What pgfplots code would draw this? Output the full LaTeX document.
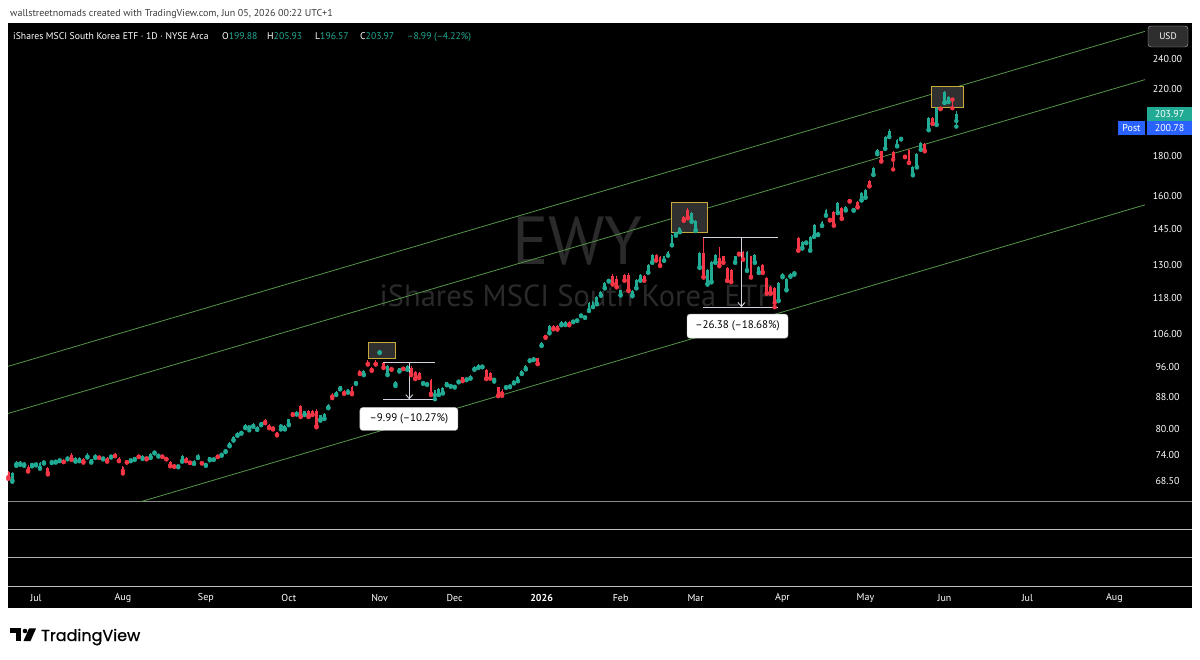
\documentclass[border=0pt]{standalone}
\usepackage{pgfplots}
\pgfplotsset{compat=1.18}
\usepackage{pgfplotstable}
\usepackage{fontspec}
\setmainfont{PT Sans}
\newfontfamily\logofont{Poppins}[FakeBold=0.8]
\usetikzlibrary{arrows.meta}
\definecolor{up}{RGB}{34,171,148}
\definecolor{dn}{RGB}{242,54,69}
\definecolor{chan}{RGB}{86,150,72}
\definecolor{boxy}{RGB}{200,170,60}
\definecolor{boxf}{RGB}{48,48,48}
\definecolor{wm}{RGB}{42,42,42}
\definecolor{meas}{RGB}{209,212,220}
\definecolor{postblue}{RGB}{41,98,255}
\definecolor{hdr}{RGB}{60,60,60}

\pgfplotstableread{
i o h l c
-7 70.2 70.6 68.9 69.2
-6 68.6 70.4 68.3 70.1
-5 71.9 72.7 71.6 72.5
-4 72.1 72.6 71.8 72.3
-3 71.9 72.4 71.6 72.2
-2 71.3 71.7 70.4 70.6
-1 71.8 72.2 71.5 72.0
0 71.9 72.3 71.7 72.1
1 71.2 72.5 71.0 72.3
2 72.3 72.9 72.1 72.7
3 71.1 71.4 69.8 70.1
4 72.4 72.7 72.2 72.5
5 72.5 72.8 72.3 72.7
6 72.8 73.1 72.6 72.9
7 72.8 73.0 72.4 72.5
8 73.2 73.6 73.0 73.4
9 74.0 74.3 72.9 73.1
10 72.7 73.5 72.5 73.3
11 72.7 73.4 72.6 73.3
12 73.0 73.2 72.3 72.5
13 73.6 74.5 73.4 74.0
14 72.5 73.1 72.3 73.0
15 73.5 74.2 73.3 74.0
16 73.7 73.8 73.3 73.4
17 73.2 73.6 73.0 73.4
18 73.3 73.5 72.5 72.7
19 73.6 73.9 73.4 73.8
20 74.2 74.5 73.7 73.8
21 73.3 73.5 72.6 72.7
22 71.3 71.6 70.0 70.5
23 72.6 72.8 72.3 72.4
24 72.8 73.1 72.6 73.0
25 73.0 73.6 72.9 73.4
26 73.8 74.0 73.5 73.6
27 73.3 73.9 73.1 73.7
28 73.5 73.7 73.0 73.2
29 73.5 74.4 73.3 74.2
30 74.5 74.9 74.3 74.7
31 73.8 74.1 73.6 74.0
32 73.9 74.1 73.5 73.6
33 73.2 73.3 73.0 73.1
34 72.5 72.7 71.5 71.7
35 71.7 71.9 71.4 71.5
36 71.5 71.7 71.3 71.6
37 72.7 73.9 72.5 73.8
38 73.3 73.5 72.6 72.8
39 72.5 72.7 72.2 72.3
40 72.2 72.8 72.0 72.6
41 73.5 74.2 73.3 73.9
42 72.4 72.6 72.1 72.2
43 71.8 72.3 71.6 72.2
44 73.0 73.5 72.8 73.4
45 73.0 73.3 72.9 73.2
46 73.8 74.0 73.5 73.6
47 74.0 74.5 73.8 74.3
48 74.8 75.3 74.6 75.1
49 76.1 76.9 75.9 76.7
50 77.4 78.2 77.2 78.0
51 78.5 79.2 78.3 79.0
52 79.0 79.5 78.8 79.3
53 80.3 81.1 80.1 80.9
54 80.3 80.6 79.6 80.4
55 80.6 81.3 80.4 81.1
56 79.9 80.5 79.7 80.3
57 81.0 81.7 80.8 81.5
58 82.0 82.3 81.3 81.5
59 80.9 81.1 80.1 80.3
60 80.3 80.5 79.8 80.0
61 79.1 79.3 78.4 78.6
62 80.5 81.2 79.8 80.7
63 80.0 80.8 79.8 80.6
64 81.0 82.4 80.8 82.2
65 83.8 84.0 83.3 83.5
66 83.6 84.2 83.4 84.0
67 85.5 85.8 82.8 83.0
68 83.5 84.4 83.3 84.2
69 84.2 84.5 82.8 83.0
70 84.2 84.6 83.3 83.5
71 84.4 84.8 80.3 80.6
72 82.2 83.4 81.9 83.2
73 82.5 83.7 82.3 83.5
74 85.2 86.0 85.0 85.8
75 88.3 88.8 87.6 88.0
76 88.6 89.5 88.4 89.2
77 90.1 90.9 89.9 90.7
78 89.5 89.7 88.7 88.9
79 89.2 90.1 89.0 89.9
80 90.6 90.8 88.6 89.0
81 91.6 92.2 91.4 91.9
82 94.9 95.2 94.1 94.3
83 94.0 95.3 93.8 94.9
84 97.3 98.0 96.8 97.0
85 95.7 96.0 95.0 95.2
86 97.3 98.0 96.8 97.0
87 100.4 101.0 100.2 100.6
88 97.2 97.3 95.8 96.0
89 94.0 96.7 93.8 96.5
90 95.9 96.0 95.3 95.5
91 91.3 92.2 90.8 92.0
92 95.0 95.9 94.8 95.7
93 95.8 96.0 95.5 95.6
94 95.5 96.6 95.3 96.4
95 95.9 96.3 93.8 94.1
96 94.7 95.0 92.7 92.9
97 94.3 94.6 93.0 93.3
98 91.6 92.1 91.4 91.9
99 91.3 91.8 91.1 91.6
100 92.5 92.8 88.4 88.7
101 88.4 89.8 87.3 89.6
102 88.6 90.2 88.4 90.0
103 89.0 90.4 88.8 90.2
104 91.2 92.0 91.0 91.8
105 90.8 91.2 90.6 91.0
106 90.6 91.0 90.4 90.8
107 92.0 92.5 91.8 92.3
108 93.2 93.4 92.1 92.3
109 92.6 93.0 92.4 92.8
110 93.0 93.7 92.8 93.5
111 95.5 96.4 95.3 96.2
112 96.0 96.9 95.8 96.8
113 96.2 96.5 96.0 96.3
114 95.1 95.4 92.7 92.9
115 94.5 94.8 92.8 93.0
116 92.5 93.0 92.0 92.8
117 90.4 90.6 88.1 88.3
118 89.5 90.0 88.2 88.8
119 90.5 91.2 90.3 91.0
120 90.7 91.0 90.5 90.9
121 91.7 92.4 91.5 92.2
122 92.3 93.6 92.1 93.4
123 94.3 95.1 94.1 94.9
124 95.6 96.6 95.4 96.4
125 98.0 98.7 97.8 98.5
126 98.3 98.9 98.1 98.6
127 98.6 98.8 96.9 97.1
128 102.5 103.5 102.3 103.3
129 105.3 105.6 104.8 105.1
130 106.5 108.9 106.2 108.5
131 108.7 109.0 107.5 107.8
132 108.5 108.8 107.4 107.7
133 109.0 110.2 108.8 110.0
134 109.1 110.3 108.9 110.0
135 110.0 110.3 108.8 109.1
136 110.0 110.6 109.8 110.3
137 110.4 110.9 110.2 110.7
138 112.0 112.6 111.8 112.3
139 111.4 111.9 111.2 111.6
140 113.8 116.5 113.5 116.2
141 115.0 116.8 114.8 116.5
142 116.0 118.6 115.8 118.3
143 119.0 120.5 118.8 120.2
144 121.6 123.7 121.4 123.4
145 124.2 124.8 123.9 124.5
146 126.1 126.6 122.8 123.1
147 124.8 126.0 121.8 122.0
148 119.1 121.0 118.9 120.8
149 126.3 126.8 124.2 124.4
150 126.5 127.0 120.5 120.8
151 119.1 120.7 118.6 120.5
152 121.6 124.7 121.4 124.4
153 124.4 126.6 124.2 126.3
154 125.8 126.2 124.2 124.4
155 127.4 130.4 127.2 130.1
156 131.3 134.5 131.0 134.1
157 134.1 134.5 131.9 132.1
158 133.3 133.6 129.8 130.1
159 132.0 133.8 131.8 133.5
160 134.0 135.6 133.8 135.3
161 138.3 142.8 138.0 142.4
162 142.5 143.8 142.0 143.5
163 143.7 145.8 143.5 145.4
164 150.2 150.8 148.5 148.8
165 153.4 154.4 149.6 149.9
166 148.4 152.3 148.0 152.0
167 144.5 148.7 144.0 148.4
168 129.4 135.3 129.0 134.9
169 134.9 141.2 125.4 125.7
170 123.1 128.5 122.8 128.2
171 124.0 131.6 123.6 131.3
172 131.3 134.4 131.0 134.1
173 133.0 137.3 129.7 130.0
174 133.5 133.8 131.0 131.3
175 129.0 129.3 124.1 124.4
176 128.2 128.5 123.7 124.0
177 131.3 133.8 131.0 133.5
178 135.0 135.5 134.3 134.6
179 135.3 135.8 132.2 132.5
180 128.2 135.6 127.9 135.3
181 133.5 133.8 125.4 125.7
182 131.3 134.4 131.0 134.1
183 127.4 129.7 127.1 129.4
184 130.1 130.4 127.1 127.4
185 125.2 125.5 119.5 119.8
186 122.0 122.3 119.5 119.8
187 121.6 121.9 114.8 116.3
188 117.2 123.6 116.9 123.3
189 126.0 127.0 125.5 126.5
190 121.0 125.3 120.7 125.0
191 126.0 127.0 125.7 126.6
192 127.0 128.0 126.5 127.6
193 141.0 141.5 135.8 136.1
194 137.0 139.7 136.7 139.4
195 139.2 139.8 138.9 139.5
196 136.1 141.7 135.8 141.4
197 141.8 146.9 141.5 146.6
198 142.6 143.6 142.3 143.3
199 146.5 148.3 146.2 148.0
200 151.0 153.7 150.7 153.4
201 149.4 149.7 148.6 148.9
202 152.6 152.9 146.3 146.6
203 152.2 156.8 151.9 156.5
204 154.2 154.5 149.3 149.6
205 153.4 155.1 153.1 154.8
206 157.8 158.1 157.2 157.5
207 153.3 154.0 153.0 153.6
208 157.0 157.3 154.5 154.8
209 158.0 161.6 157.7 161.3
210 159.3 163.1 159.0 162.8
211 167.2 167.5 164.5 164.8
212 170.5 174.2 170.2 173.8
213 182.0 183.8 181.0 183.4
214 182.7 183.0 177.1 177.4
215 184.2 191.2 183.9 190.8
216 190.8 195.3 190.5 193.7
217 182.3 182.6 173.0 178.1
218 185.6 189.3 185.3 189.0
219 189.5 190.5 189.2 190.2
220 180.0 180.3 179.4 179.7
221 183.4 183.8 176.3 176.6
222 170.5 174.7 170.0 174.4
223 174.4 181.5 174.0 181.2
224 183.7 187.7 183.4 187.4
225 186.8 187.1 182.6 182.9
226 194.7 202.3 194.4 201.9
227 201.9 202.3 198.1 198.4
228 197.8 208.4 197.5 208.0
229 207.6 207.9 207.0 207.3
230 211.1 218.5 210.8 218.1
231 211.7 215.2 211.4 214.9
232 213.6 214.0 207.6 212.96
233 199.88 205.93 196.57 203.97
}\ewy

\pgfplotsset{
  wick/.style={only marks, mark=none, error bars/.cd, y dir=plus, y explicit, error mark=none,
     error bar style={line width=0.9pt}},
  body/.style={only marks, mark=none, error bars/.cd, y dir=plus, y explicit, error mark=none,
     error bar style={line width=2.8pt, line cap=butt}},
  upf/.style={x filter/.expression={\thisrow{c}>=\thisrow{o} ? x : nan}},
  dnf/.style={x filter/.expression={\thisrow{c}<\thisrow{o} ? x : nan}},
}

\begin{document}
\begin{tikzpicture}[x=1pt,y=1pt]
\fill[white] (0,0) rectangle (1200,659);
\fill[black] (8,51) rectangle (1192,636);
% pane separators
\draw[black!45, line width=1pt] (8,157) -- (1192,157);
\draw[black!25, line width=1pt] (8,129.5) -- (1192,129.5);
\draw[black!30, line width=1pt] (8,101) -- (1192,101);
\draw[black!25, line width=1pt] (8,72.5) -- (1192,72.5);
% watermark
\node[anchor=base, inner sep=0, text=wm, font=\fontsize{68}{70}\selectfont] at (577.5,394) {EWY};
\node[anchor=base, inner sep=0, text=wm, font=\fontsize{30.5}{32}\selectfont] at (576.5,352.3) {iShares MSCI South Korea ETF};

\begin{axis}[
  at={(8pt,157pt)}, anchor=south west, scale only axis,
  width=1137pt, height=479pt,
  xmin=-7.09, xmax=280.76,
  ymode=log, ymin=64.30, ymax=267.5,
  axis line style={draw=none}, tick style={draw=none},
  ytick={68.5,74,80,88,96,106,118,130,145,160,180,220,240},
  yticklabels={68.50,74.00,80.00,88.00,96.00,106.00,118.00,130.00,145.00,160.00,180.00,220.00,240.00},
  yticklabel pos=right,
  yticklabel style={font=\fontsize{10}{12}\selectfont, text=white, anchor=center, xshift=22.5pt},
  xtick={0,22,43,64,87,106,128,148,167,189,210,230,251,273},
  xticklabels={Jul,Aug,Sep,Oct,Nov,Dec,\textbf{2026},Feb,Mar,Apr,May,Jun,Jul,Aug},
  xticklabel style={font=\fontsize{10}{12}\selectfont, text=white, anchor=center, yshift=-96pt},
  clip=true,
]
% channel lines
\addplot[chan, line width=0.8pt, no marks] coordinates {(-7.09,96.27) (280.76,260.9)};
\addplot[chan, line width=0.8pt, no marks] coordinates {(-7.09,83.67) (280.76,226.0)};
\addplot[chan, line width=0.8pt, no marks] coordinates {(25.57,64.14) (280.76,155.7)};
% highlight boxes
\draw[boxy, line width=0.9pt, fill=boxf] (axis cs:84.05,98.6) rectangle (axis cs:91.1,103.4);
\draw[boxy, line width=0.9pt, fill=boxf] (axis cs:160.9,143.2) rectangle (axis cs:169.9,156.6);
\draw[boxy, line width=0.9pt, fill=boxf] (axis cs:226.8,207.96) rectangle (axis cs:234.9,221.4);
% candles: wicks
\addplot[up, upf, wick] table[x=i, y=l, y error expr=\thisrow{h}-\thisrow{l}] {\ewy};
\addplot[dn, dnf, wick] table[x=i, y=l, y error expr=\thisrow{h}-\thisrow{l}] {\ewy};
% candles: bodies
\addplot[up, upf, body] table[x=i, y expr={min(\thisrow{o},\thisrow{c})},
   y error expr={max(abs(\thisrow{c}-\thisrow{o}),0.2)}] {\ewy};
\addplot[dn, dnf, body] table[x=i, y expr={min(\thisrow{o},\thisrow{c})},
   y error expr={max(abs(\thisrow{c}-\thisrow{o}),0.2)}] {\ewy};
% measure tools
\draw[meas, line width=0.9pt] (axis cs:87.85,97.27) -- (axis cs:101.0,97.27);
\draw[meas, line width=0.9pt] (axis cs:87.85,87.28) -- (axis cs:101.0,87.28);
\draw[meas, line width=0.9pt, -{Straight Barb[length=4pt,width=7pt]}] (axis cs:94.5,97.27) -- (axis cs:94.5,87.28);
\draw[meas, line width=0.9pt] (axis cs:168.9,141.2) -- (axis cs:187.8,141.2);
\draw[meas, line width=0.9pt] (axis cs:168.9,114.82) -- (axis cs:187.8,114.82);
\draw[meas, line width=0.9pt, -{Straight Barb[length=4pt,width=7pt]}] (axis cs:178.6,141.2) -- (axis cs:178.6,114.82);
\node[fill=white, draw=gray!50, rounded corners=3pt, text=black, minimum width=98pt, minimum height=23pt, inner sep=0pt, font=\fontsize{11}{13}\selectfont] at (axis cs:94.4,82.31) {–9.99 (–10.27\%)};
\node[fill=white, draw=gray!50, rounded corners=3pt, text=black, minimum width=101pt, minimum height=24pt, inner sep=0pt, font=\fontsize{11}{13}\selectfont] at (axis cs:177.6,108.5) {–26.38 (–18.68\%)};
\end{axis}

% top caption
\node[anchor=base west, inner sep=0, text=hdr, font=\fontsize{10}{12}\selectfont] at (10,642) {wallstreetnomads created with TradingView.com, Jun 05, 2026 00:22 UTC+1};
% header
\begin{scope}[every node/.style={anchor=base west, inner sep=0, font=\fontsize{9.7}{11}\selectfont}]
\node[text=white] at (13,619) {iShares MSCI South Korea ETF · 1D · NYSE Arca};
\node[text=white] at (222,619) {O\textcolor{up}{199.88}};
\node[text=white] at (267,619) {H\textcolor{up}{205.93}};
\node[text=white] at (315,619) {L\textcolor{up}{196.57}};
\node[text=white] at (360,619) {C\textcolor{up}{203.97}};
\node[text=up] at (407,619) {–8.99 (–4.22\%)};
\end{scope}
% price scale extras
\draw[fill=black!82, draw=gray!60, rounded corners=3pt] (1148,612) rectangle (1188,633);
\node[text=white, font=\fontsize{9.5}{11}\selectfont] at (1168,622.5) {USD};
\fill[up] (1147,538) rectangle (1192,552);
\node[text=white, font=\fontsize{10}{12}\selectfont] at (1169.5,545) {203.97};
\fill[postblue] (1118,524) rectangle (1145,538);
\fill[postblue] (1147,524) rectangle (1192,538);
\node[text=white, font=\fontsize{10}{12}\selectfont] at (1131.5,531) {Post};
\node[text=white, font=\fontsize{10}{12}\selectfont] at (1169.5,531) {200.78};
% TradingView logo (bottom left)
\fill[black] (10,26) rectangle (21,30.5);
\fill[black] (15.5,18) rectangle (21,30.5);
\fill[black] (25,28) circle (2.3);
\fill[black] (29,30.5) -- (36,30.5) -- (30.5,18) -- (23.5,18) -- cycle;
\node[anchor=base west, inner sep=0, font=\logofont\fontsize{16}{18}\selectfont] at (41,18) {TradingView};
\end{tikzpicture}
\end{document}
